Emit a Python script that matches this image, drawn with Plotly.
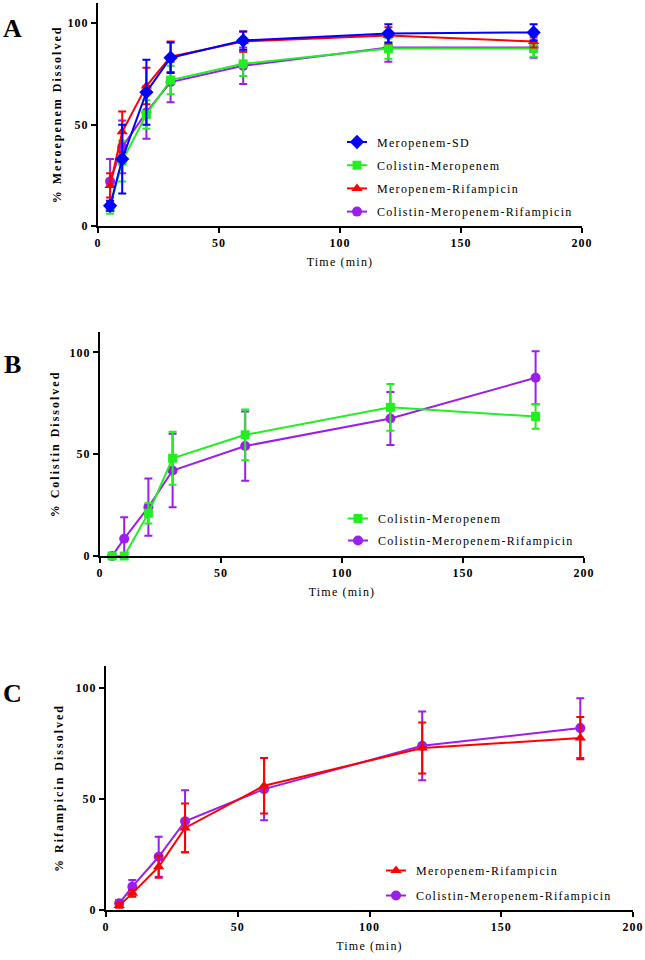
import plotly.graph_objects as go

W, H = 645, 960

# ---------------- data ----------------
time = [5, 10, 20, 30, 60, 120, 180]

# Panel A: % Meropenem dissolved
a_mero_sd = [10, 33, 66, 83, 91.5, 95, 95.5]
a_mero_sd_err = [2.5, 17, 16, 7.5, 4.5, 4.5, 4]
a_col_mero = [9, 32, 55, 72, 80, 87.5, 87.5]
a_col_mero_err = [3, 10, 7, 7, 6, 5, 4]
a_mero_rif = [20, 46.5, 69, 83.5, 91, 94, 91]
a_mero_rif_err = [6, 10, 9, 7.5, 5, 4, 3]
a_col_mero_rif = [22, 39, 56, 71, 79, 88, 88]
a_col_mero_rif_err = [11, 13, 13, 10, 9, 7, 5]

# Panel B: % Colistin dissolved
b_col_mero = [0, 0, 21, 48, 59.5, 73, 68.5]
b_col_mero_err = [0, 0, 5, 13, 12.5, 11.5, 6]
b_col_mero_rif = [0, 8.5, 24, 42, 54, 67.5, 87.5]
b_col_mero_rif_err = [0, 10.5, 14, 18, 17, 13, 13]

# Panel C: % Rifampicin dissolved
c_mero_rif = [2, 7.5, 19.5, 37, 56, 73, 77.5]
c_mero_rif_err = [1, 1.5, 5, 11, 12.5, 11.5, 9.5]
c_col_mero_rif = [3, 10.5, 24, 40, 54.5, 74, 82]
c_col_mero_rif_err = [1.5, 3, 9, 14, 14, 15.5, 13.5]

x_ticks = [0, 50, 100, 150, 200]
y_ticks = [0, 50, 100]

names = {
    "sd": "Meropenem-SD",
    "cm": "Colistin-Meropenem",
    "mr": "Meropenem-Rifampicin",
    "cmr": "Colistin-Meropenem-Rifampicin",
}
colors = {"sd": "#0000FF", "cm": "#22EE22", "mr": "#FF0000", "cmr": "#9B1FE8"}
symbols = {"sd": "diamond", "cm": "square", "mr": "triangle-up", "cmr": "circle"}
msize = {"sd": 11, "cm": 9, "mr": 10, "cmr": 10}

SERIF = "Liberation Serif, Times New Roman, serif"


def px_x(p):
    return p / W


def px_y(p):
    return 1 - p / H


fig = go.Figure()


def add(key, y, err, xa, ya, legend, rank):
    fig.add_trace(go.Scatter(
        x=time, y=y, name=names[key],
        mode="lines+markers",
        line=dict(color=colors[key], width=2),
        marker=dict(symbol=symbols[key], size=msize[key], color=colors[key]),
        error_y=dict(type="data", array=err, visible=True, color=colors[key],
                     thickness=2, width=4),
        xaxis=xa, yaxis=ya, legend=legend, legendrank=rank,
        legendgroup=legend + key, cliponaxis=False,
    ))


# Panel A (draw order reverse of legend order)
add("cmr", a_col_mero_rif, a_col_mero_rif_err, "x", "y", "legend", 4)
add("cm", a_col_mero, a_col_mero_err, "x", "y", "legend", 2)
add("mr", a_mero_rif, a_mero_rif_err, "x", "y", "legend", 3)
add("sd", a_mero_sd, a_mero_sd_err, "x", "y", "legend", 1)
# Panel B
add("cmr", b_col_mero_rif, b_col_mero_rif_err, "x2", "y2", "legend2", 2)
add("cm", b_col_mero, b_col_mero_err, "x2", "y2", "legend2", 1)
# Panel C
add("cmr", c_col_mero_rif, c_col_mero_rif_err, "x3", "y3", "legend3", 2)
add("mr", c_mero_rif, c_mero_rif_err, "x3", "y3", "legend3", 1)

tickfont = dict(family=SERIF, size=12, color="black", weight="bold")


def xaxis(dom, anchor):
    return dict(domain=dom, anchor=anchor, range=[0, 200], tickvals=x_ticks,
                automargin=False, ticklabeloverflow="allow",
                showline=True, linecolor="black", linewidth=2, ticks="outside",
                ticklen=5, tickwidth=2, tickcolor="black", showgrid=False,
                zeroline=False, tickfont=tickfont,
                title=dict(text="Time (min)", standoff=8,
                           font=dict(family=SERIF, size=12, color="black")))


def yaxis(dom, anchor, title, standoff):
    return dict(domain=dom, anchor=anchor, range=[0, 110], tickvals=y_ticks,
                automargin=False, ticklabeloverflow="allow",
                showline=True, linecolor="black", linewidth=2, ticks="outside",
                ticklen=5, tickwidth=2, tickcolor="black", showgrid=False,
                zeroline=False, tickfont=tickfont,
                title=dict(text=title, standoff=standoff,
                           font=dict(family=SERIF, size=12, color="black", weight="bold")))


legfont = dict(family=SERIF, size=12, color="black")


def legend(x, y, gap):
    return dict(x=x, y=y, xanchor="left", yanchor="top", font=legfont,
                bgcolor="rgba(0,0,0,0)", traceorder="grouped", tracegroupgap=gap)


fig.update_layout(
    width=W, height=H, autosize=False,
    margin=dict(l=0, r=0, t=0, b=0, pad=0),
    paper_bgcolor="white", plot_bgcolor="white",
    showlegend=True,
    xaxis=xaxis([px_x(98), px_x(582)], "y"),
    yaxis=yaxis([px_y(226), px_y(3)], "x", "% Meroepenem Dissolved", 6),
    xaxis2=xaxis([px_x(100), px_x(584)], "y2"),
    yaxis2=yaxis([px_y(556), px_y(332)], "x2", "% Colistin Dissolved", 10),
    xaxis3=xaxis([px_x(106), px_x(633)], "y3"),
    yaxis3=yaxis([px_y(910), px_y(666)], "x3", "% Rifampicin Dissolved", 12),
    legend=legend(px_x(337), px_y(127.5), 4.2),
    legend2=legend(px_x(338), px_y(504), 3),
    legend3=legend(px_x(376), px_y(856), 6),
)

for letter, yy in [("A", 28), ("B", 364), ("C", 693)]:
    fig.add_annotation(text=letter, xref="paper", yref="paper", x=px_x(12), y=px_y(yy),
                       xanchor="center", yanchor="middle", showarrow=False,
                       font=dict(family=SERIF, size=26, color="black", weight="bold"))

css = (
    "body{margin:0!important;padding:0!important;}"
    ".js-plotly-plot .g-ytitle text,.js-plotly-plot .g-y2title text,.js-plotly-plot .g-y3title text{letter-spacing:2px;}"
    ".js-plotly-plot .g-xtitle text,.js-plotly-plot .g-x2title text,.js-plotly-plot .g-x3title text{letter-spacing:1.2px;}"
    ".js-plotly-plot .xtick text,.js-plotly-plot .ytick text,.js-plotly-plot .x2tick text,"
    ".js-plotly-plot .y2tick text,.js-plotly-plot .x3tick text,.js-plotly-plot .y3tick text{letter-spacing:1px;}"
    "svg text.legendtext,svg g.traces text{letter-spacing:1.3px!important;}"
    "svg .infolayer g,svg .scrollbox{clip-path:none!important;}"
    "svg .legendlines path,svg g.traces .legendlines path{d:path('M10,0h20')!important;}"
)

post_script = """
var s = document.createElement('style');
s.textContent = %r;
document.head.appendChild(s);
var gd = document.getElementById('{plot_id}');
function fixLegends() {
  document.querySelectorAll('text.legendtext, g.traces text').forEach(function(t){
    t.style.letterSpacing = '1.3px';
  });
  document.querySelectorAll('g.legendlines path').forEach(function(p){
    if (p.getAttribute('d') !== 'M10,0h20') p.setAttribute('d', 'M10,0h20');
  });
  document.querySelectorAll('g.scrollbox, .infolayer > g').forEach(function(e){
    if (e.hasAttribute('clip-path')) e.removeAttribute('clip-path');
  });
}
fixLegends();
if (gd && gd.on) gd.on('plotly_afterplot', fixLegends);
var obs = new MutationObserver(function(){ obs.disconnect(); fixLegends(); obs.observe(document.body, {childList: true, subtree: true}); });
obs.observe(document.body, {childList: true, subtree: true});
setTimeout(fixLegends, 30);
setTimeout(fixLegends, 200);
""" % css

fig.write_html("out.html", post_script=post_script, config={"displayModeBar": False})
